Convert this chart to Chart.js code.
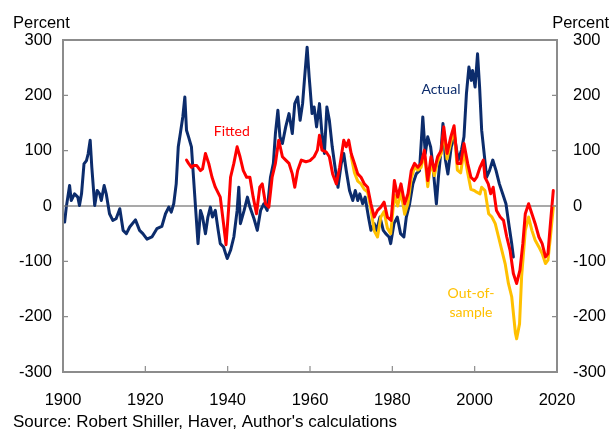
<!DOCTYPE html>
<html lang="en">
<head>
  <meta charset="UTF-8">
  <title>Actual vs fitted</title>
  <script src="https://cdn.jsdelivr.net/npm/chart.js"></script>
  <style>
    html, body { margin: 0; padding: 0; background: #fff; }
    canvas { display: block; }
  </style>
</head>
<body>
  <canvas id="chart" width="615" height="432"></canvas>
  <script>
    // values (percent)
    const actualYears = [1900.0, 1900.4, 1900.8, 1901.6, 1902.0, 1902.8, 1903.6, 1904.0, 1904.5, 1905.1, 1905.7, 1906.1, 1906.6, 1907.0, 1907.7, 1908.3, 1908.9, 1909.3, 1910.0, 1910.5, 1911.3, 1912.1, 1912.9, 1913.8, 1914.6, 1915.4, 1916.2, 1917.6, 1918.6, 1919.4, 1920.4, 1921.6, 1922.8, 1924.0, 1924.9, 1925.7, 1926.3, 1926.9, 1927.5, 1928.0, 1928.5, 1929.1, 1929.6, 1930.0, 1930.5, 1931.2, 1931.7, 1932.3, 1932.8, 1933.4, 1933.9, 1934.6, 1935.2, 1935.8, 1936.3, 1937.0, 1937.7, 1938.2, 1939.0, 1939.5, 1939.9, 1940.7, 1941.5, 1942.3, 1942.7, 1943.1, 1944.0, 1944.8, 1945.4, 1946.4, 1947.2, 1948.0, 1948.8, 1949.6, 1950.4, 1951.1, 1951.6, 1952.2, 1952.7, 1953.3, 1954.1, 1954.9, 1955.7, 1956.3, 1957.0, 1957.6, 1958.2, 1958.7, 1959.3, 1959.8, 1960.0, 1960.5, 1961.0, 1961.6, 1962.3, 1962.9, 1963.5, 1964.1, 1964.7, 1965.4, 1966.2, 1966.8, 1967.6, 1968.2, 1968.8, 1969.6, 1970.4, 1971.0, 1971.6, 1972.1, 1972.8, 1973.4, 1974.2, 1974.8, 1975.6, 1976.2, 1977.0, 1977.8, 1978.4, 1979.2, 1979.6, 1980.4, 1981.2, 1982.0, 1982.8, 1983.4, 1984.2, 1985.0, 1985.8, 1986.6, 1987.4, 1988.0, 1988.6, 1989.3, 1989.8, 1990.7, 1991.2, 1991.9, 1992.3, 1992.9, 1993.5, 1994.3, 1995.1, 1996.0, 1996.8, 1997.4, 1998.0, 1998.6, 1999.2, 1999.5, 2000.1, 2000.7, 2001.2, 2001.7, 2002.3, 2002.9, 2003.6, 2004.4, 2005.2, 2006.0, 2006.8, 2007.6, 2008.4, 2009.0, 2009.4];
    const actualValues = [-23, -29, -2, 37, 10, 22, 16, 1, 22, 76, 82, 94, 119, 70, 1, 28, 22, 10, 37, 22, -14, -26, -23, -5, -44, -50, -38, -25, -44, -50, -60, -56, -41, -37, -14, -2, -11, 4, 40, 107, 131, 161, 197, 137, 125, 107, 52, -14, -68, -8, -20, -50, -20, -2, -20, -8, -44, -68, -74, -86, -95, -80, -56, -8, 34, -32, -8, 16, -2, -23, -44, -8, 4, -8, 52, 77, 131, 173, 125, 113, 143, 167, 131, 185, 197, 155, 185, 233, 287, 233, 215, 167, 179, 143, 185, 131, 95, 179, 155, 107, 64, 34, 77, 95, 64, 28, 10, 28, 10, 22, 4, 16, -20, -44, -32, -44, -20, -44, -50, -56, -68, -32, -20, -50, -56, -20, 4, 40, 58, 64, 161, 95, 125, 107, 77, 4, 52, 107, 149, 83, 58, 107, 125, 83, 101, 125, 203, 251, 227, 245, 215, 275, 215, 137, 95, 52, 64, 83, 64, 40, 22, 4, -38, -68, -92];

    const fittedYears = [1930.0, 1930.5, 1931.2, 1931.7, 1932.5, 1933.4, 1933.9, 1934.6, 1935.4, 1936.2, 1937.0, 1938.2, 1939.0, 1939.6, 1940.2, 1940.7, 1941.5, 1942.3, 1943.0, 1943.8, 1944.6, 1945.4, 1946.2, 1947.0, 1947.8, 1948.4, 1949.2, 1950.0, 1950.8, 1951.6, 1952.4, 1953.3, 1954.1, 1954.9, 1955.7, 1956.3, 1957.0, 1957.9, 1959.0, 1960.0, 1961.0, 1961.8, 1962.3, 1962.9, 1963.9, 1964.7, 1965.5, 1966.4, 1967.2, 1968.2, 1968.8, 1969.4, 1970.0, 1970.8, 1971.6, 1972.4, 1973.2, 1974.0, 1974.8, 1975.6, 1976.4, 1977.2, 1978.0, 1978.8, 1979.7, 1980.5, 1981.3, 1982.1, 1983.0, 1983.8, 1984.6, 1985.4, 1986.2, 1987.0, 1987.8, 1988.6, 1989.4, 1990.2, 1991.0, 1991.9, 1992.5, 1993.3, 1994.2, 1995.0, 1995.8, 1996.6, 1997.4, 1998.3, 1999.1, 1999.9, 2000.5, 2001.3, 2002.1, 2002.5, 2003.3, 2003.9, 2004.5, 2005.3, 2006.2, 2007.0, 2007.8, 2008.6, 2009.4, 2010.2, 2011.0, 2011.7, 2012.3, 2013.1, 2013.9, 2014.7, 2015.6, 2016.4, 2017.2, 2017.8, 2018.4, 2019.1];
    const fittedValues = [83, 77, 70, 73, 73, 64, 67, 95, 77, 52, 34, 16, -32, -70, -8, 52, 77, 107, 89, 64, 52, 52, 16, -14, 34, 40, 4, -2, 52, 77, 119, 89, 83, 77, 58, 34, 64, 83, 80, 82, 89, 101, 128, 101, 98, 89, 58, 40, 70, 119, 107, 119, 95, 77, 58, 52, 40, 34, 4, -20, -8, -2, 7, -20, -26, 46, 16, 40, 4, 22, 64, 77, 70, 77, 101, 46, 89, 64, 89, 101, 143, 95, 125, 145, 77, 77, 113, 77, 52, 46, 52, 70, 83, 52, 40, 22, 34, -8, -20, -26, -56, -80, -122, -140, -116, -68, -14, 4, -14, -32, -56, -68, -92, -86, -32, 28];

    const outYears = [1970.0, 1970.8, 1971.6, 1972.4, 1973.2, 1974.0, 1974.8, 1975.6, 1976.4, 1977.2, 1978.0, 1978.8, 1979.6, 1980.5, 1981.3, 1982.1, 1983.0, 1983.8, 1984.6, 1985.4, 1986.2, 1987.0, 1987.8, 1988.6, 1989.4, 1990.2, 1991.0, 1991.9, 1992.5, 1993.3, 1994.2, 1995.0, 1995.8, 1996.6, 1997.4, 1998.3, 1999.1, 1999.9, 2000.5, 2001.3, 2001.7, 2002.5, 2003.4, 2004.2, 2005.0, 2005.8, 2006.6, 2007.4, 2008.2, 2009.0, 2009.9, 2010.2, 2010.9, 2011.4, 2012.3, 2013.1, 2013.9, 2014.7, 2015.6, 2016.4, 2017.2, 2017.8, 2018.4, 2019.1];
    const outValues = [90, 60, 45, 40, 30, 25, -5, -45, -56, -20, -10, -40, -50, 20, 0, 25, -15, 5, 50, 70, 65, 70, 95, 35, 80, 55, 80, 95, 135, 85, 115, 140, 65, 60, 100, 60, 30, 28, 25, 22, 34, 28, -14, -20, -32, -56, -80, -104, -140, -164, -230, -240, -213, -128, -44, -20, -44, -62, -74, -86, -104, -98, -56, -2];

    const yearTicks = [1900, 1920, 1940, 1960, 1980, 2000, 2020];
    const percentTicks = [-300, -200, -100, 0, 100, 200, 300];

    // in-chart series labels, in data units
    const seriesLabels = [
      { text: 'Fitted', year: 1941, value: 135, color: '#ff0000' },
      { text: 'Actual', year: 1991.8, value: 210, color: '#0c2c6c' },
      { text: 'Out-of-', year: 1999.1, value: -159, color: '#ffc000' },
      { text: 'sample', year: 1999.1, value: -192, color: '#ffc000' }
    ];

    const toPoints = (xs, ys) => xs.map((x, i) => ({ x: x, y: ys[i] }));

    const frame = {
      id: 'frame',
      beforeDatasetsDraw(chart) {
        const { ctx, chartArea: a, scales } = chart;
        const y0 = scales.y.getPixelForValue(0);
        ctx.save();
        ctx.strokeStyle = '#555555';
        ctx.lineWidth = 1.2;
        ctx.beginPath();
        ctx.moveTo(a.left, y0);
        ctx.lineTo(a.right, y0);
        ctx.stroke();
        ctx.restore();
      },
      afterDraw(chart) {
        const { ctx, chartArea: a, scales } = chart;
        ctx.save();
        ctx.strokeStyle = '#8c8c8c';
        ctx.lineWidth = 2;
        ctx.strokeRect(a.left, a.top, a.right - a.left, a.bottom - a.top);
        ctx.lineWidth = 1.2;
        ctx.beginPath();
        for (const v of percentTicks) {
          const py = scales.y.getPixelForValue(v);
          ctx.moveTo(a.left, py); ctx.lineTo(a.left + 5, py);
          ctx.moveTo(a.right, py); ctx.lineTo(a.right - 5, py);
        }
        for (const yr of yearTicks) {
          const px = scales.x.getPixelForValue(yr);
          ctx.moveTo(px, a.bottom); ctx.lineTo(px, a.bottom - 6);
        }
        ctx.stroke();

        // series labels
        ctx.font = '14px Lato, "Open Sans", sans-serif';
        ctx.textAlign = 'center';
        ctx.textBaseline = 'middle';
        for (const l of seriesLabels) {
          ctx.fillStyle = l.color;
          ctx.fillText(l.text, scales.x.getPixelForValue(l.year), scales.y.getPixelForValue(l.value));
        }

        // unit captions and source
        ctx.fillStyle = '#000';
        ctx.font = '16.5px "Liberation Sans", Arial, sans-serif';
        ctx.textBaseline = 'alphabetic';
        ctx.textAlign = 'left';
        ctx.fillText('Percent', 13, 28);
        ctx.textAlign = 'right';
        ctx.fillText('Percent', 609, 28);
        ctx.font = '17px "Liberation Sans", Arial, sans-serif';
        ctx.textAlign = 'left';
        ctx.fillText("Source: Robert Shiller, Haver, Author's calculations", 13, 427);
        ctx.restore();
      }
    };

    const tickFont = { family: '"Liberation Sans", Arial, sans-serif', size: 16.5 };

    new Chart(document.getElementById('chart'), {
      type: 'line',
      data: {
        datasets: [
          { label: 'Fitted', data: toPoints(fittedYears, fittedValues), borderColor: '#ff0000' },
          { label: 'Out-of-sample', data: toPoints(outYears, outValues), borderColor: '#ffc000' },
          { label: 'Actual', data: toPoints(actualYears, actualValues), borderColor: '#0c2c6c' }
        ]
      },
      options: {
        responsive: false,
        animation: false,
        devicePixelRatio: 1,
        layout: { padding: { top: 40, left: 0, right: 0, bottom: 0 } },
        elements: {
          line: { borderWidth: 3, tension: 0, borderJoinStyle: 'round', borderCapStyle: 'round' },
          point: { radius: 0 }
        },
        plugins: {
          legend: { display: false },
          tooltip: { enabled: false }
        },
        scales: {
          x: {
            type: 'linear',
            min: 1900,
            max: 2020,
            grid: { display: false },
            border: { display: false },
            ticks: { stepSize: 20, color: '#000', font: tickFont, padding: 11, callback: v => String(v) },
            afterFit: s => { s.height = 60; }
          },
          y: {
            position: 'left',
            min: -300,
            max: 300,
            grid: { display: false },
            border: { display: false },
            ticks: { stepSize: 100, color: '#000', font: tickFont, padding: 3 },
            afterFit: s => { s.width = 63; }
          },
          y2: {
            position: 'right',
            min: -300,
            max: 300,
            grid: { display: false },
            border: { display: false },
            ticks: { stepSize: 100, color: '#000', font: tickFont, padding: 8 },
            afterFit: s => { s.width = 58; }
          }
        }
      },
      plugins: [frame]
    });
  </script>
</body>
</html>
